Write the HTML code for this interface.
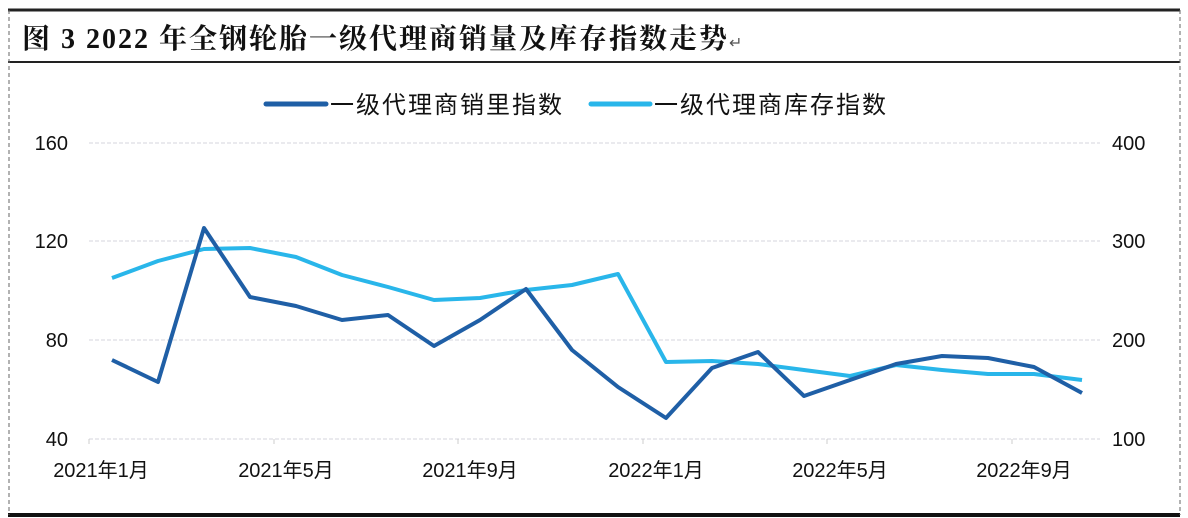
<!DOCTYPE html>
<html><head><meta charset="utf-8"><style>
body{margin:0;background:#fff;}
svg{display:block;}
text{font-family:"Liberation Sans","Noto Sans CJK SC",sans-serif;fill:#111;}
</style></head><body>
<svg width="1188" height="518" viewBox="0 0 1188 518">
<rect width="1188" height="518" fill="#fff"/>
<line x1="8" y1="10" x2="1180" y2="10" stroke="#222" stroke-width="3"/>
<line x1="8" y1="62" x2="1180" y2="62" stroke="#222" stroke-width="2"/>
<line x1="8" y1="515" x2="1180" y2="515" stroke="#111" stroke-width="4"/>
<line x1="9" y1="10" x2="9" y2="515" stroke="#666" stroke-width="1" stroke-dasharray="4,3"/>
<line x1="1180" y1="10" x2="1180" y2="515" stroke="#666" stroke-width="1" stroke-dasharray="4,3"/>
<text x="22" y="48" style="font-family:'Liberation Serif','Noto Serif CJK SC',serif;font-weight:bold;font-size:28px;letter-spacing:2px">图 3 2022 年全钢轮胎一级代理商销量及库存指数走势<tspan font-size="16" font-weight="normal" fill="#555" letter-spacing="0">↵</tspan></text>
<g stroke="#d4d4dc" stroke-width="1" stroke-dasharray="4,2">
<line x1="89" y1="143" x2="1100" y2="143"/><line x1="89" y1="241" x2="1100" y2="241"/><line x1="89" y1="340" x2="1100" y2="340"/><line x1="89" y1="439" x2="1100" y2="439"/>
</g>
<g stroke="#ccc" stroke-width="1">
<line x1="89" y1="439" x2="89" y2="444"/><line x1="274" y1="439" x2="274" y2="444"/><line x1="458" y1="439" x2="458" y2="444"/><line x1="643" y1="439" x2="643" y2="444"/><line x1="827" y1="439" x2="827" y2="444"/><line x1="1012" y1="439" x2="1012" y2="444"/>
</g>
<g font-size="20">
<text x="68" y="150" text-anchor="end">160</text><text x="68" y="248" text-anchor="end">120</text><text x="68" y="347" text-anchor="end">80</text><text x="68" y="446" text-anchor="end">40</text>
<text x="1112" y="150">400</text><text x="1112" y="248">300</text><text x="1112" y="347">200</text><text x="1112" y="446">100</text>
<text x="101" y="477" text-anchor="middle">2021年1月</text><text x="286" y="477" text-anchor="middle">2021年5月</text><text x="470" y="477" text-anchor="middle">2021年9月</text><text x="656" y="477" text-anchor="middle">2022年1月</text><text x="840" y="477" text-anchor="middle">2022年5月</text><text x="1024" y="477" text-anchor="middle">2022年9月</text>
</g>
<line x1="266" y1="104" x2="326" y2="104" stroke="#1f5fa6" stroke-width="5" stroke-linecap="round"/>
<text x="330" y="113" font-size="24" letter-spacing="2">一级代理商销里指数</text>
<line x1="591" y1="104" x2="650" y2="104" stroke="#29b6ea" stroke-width="5" stroke-linecap="round"/>
<text x="654" y="113" font-size="24" letter-spacing="2">一级代理商库存指数</text>
<polyline fill="none" stroke="#29b6ea" stroke-width="4" stroke-linejoin="round" points="112,278 158,261 204,249 250,248 296,257 342,275 388,287 434,300 480,298 526,290 572,285 618,274 666,362 712,361 758,364 804,370 850,376 896,365 942,370 988,374 1034,374 1082,380"/>
<polyline fill="none" stroke="#1f5fa6" stroke-width="4" stroke-linejoin="round" points="112,360 158,382 204,228 250,297 296,306 342,320 388,315 434,346 480,320 526,289 572,350 618,387 666,418 712,368 758,352 804,396 850,380 896,364 942,356 988,358 1034,367 1082,393"/>
</svg>
</body></html>
